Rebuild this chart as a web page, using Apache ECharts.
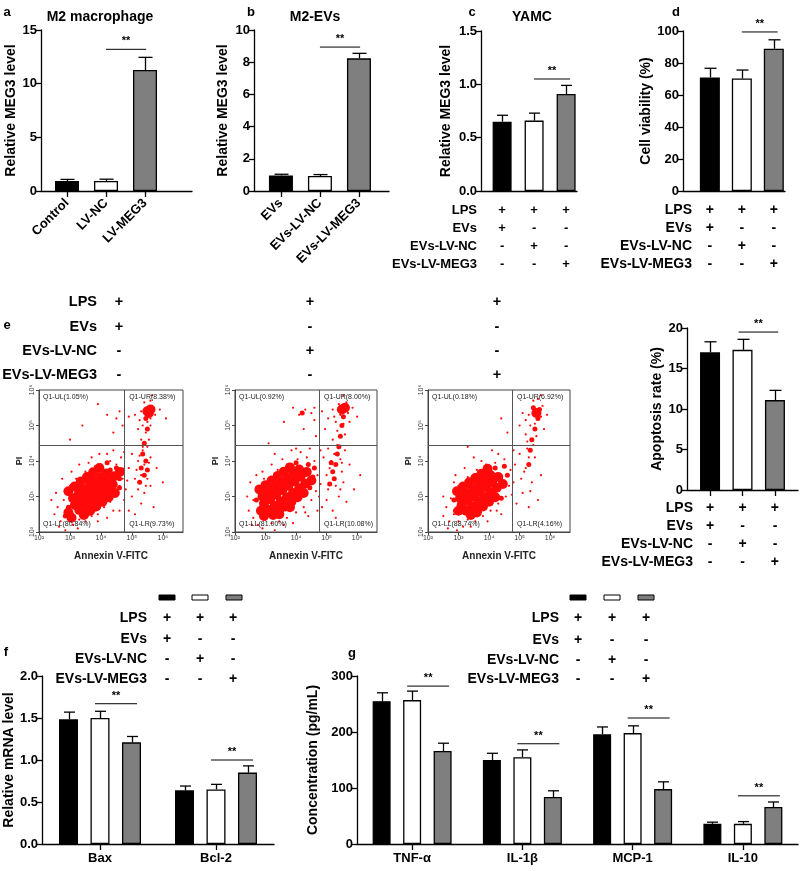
<!DOCTYPE html>
<html><head><meta charset="utf-8">
<script src="https://cdn.jsdelivr.net/npm/echarts@6/dist/echarts.min.js"></script>
<style>html,body{margin:0;padding:0;background:#fff}#main{width:800px;height:871px}</style>
</head><body><div id="main"></div>
<script>
// ---------------- DATA ----------------
const groupsA = ['Control', 'LV-NC', 'LV-MEG3'];
const meanA = [0.93, 0.93, 11.27];
const errA = [1.08, 1.1, 12.45];

const groupsB = ['EVs', 'EVs-LV-NC', 'EVs-LV-MEG3'];
const meanB = [0.97, 0.93, 8.24];
const errB = [1.04, 1.02, 8.55];

const meanC = [0.65, 0.66, 0.91];
const errC = [0.71, 0.73, 0.99];

const meanD = [71, 70.3, 88.9];
const errD = [76.7, 75.6, 94.5];

const meanE = [17.0, 17.3, 11.1];
const errE = [18.3, 18.6, 12.3];

const condLabels = ['LPS', 'EVs', 'EVs-LV-NC', 'EVs-LV-MEG3'];
const condMatrix = [['+', '+', '+'], ['+', '-', '-'], ['-', '+', '-'], ['-', '-', '+']];

const genesF = ['Bax', 'Bcl-2'];
const meanF = [[1.485, 0.64], [1.50, 0.65], [1.21, 0.85]];
const errF = [[1.57, 0.69], [1.58, 0.71], [1.28, 0.93]];

const cytoG = ['TNF-α', 'IL-1β', 'MCP-1', 'IL-10'];
const meanG = [[255, 150, 196, 36], [257, 155, 198, 36], [166, 84, 98, 66]];
const errG = [[270, 162, 209, 39], [273, 168, 211, 40], [180, 95, 111, 75]];

const flowTicks = ['10²', '10³', '10⁴', '10⁵', '10⁶'];
const quadLabels = [
  ['Q1-UL(1.05%)', 'Q1-UR(8.38%)', 'Q1-LL(80.84%)', 'Q1-LR(9.73%)'],
  ['Q1-UL(0.92%)', 'Q1-UR(8.00%)', 'Q1-LL(81.00%)', 'Q1-LR(10.08%)'],
  ['Q1-UL(0.18%)', 'Q1-UR(6.92%)', 'Q1-LL(88.74%)', 'Q1-LR(4.16%)']
];
const gateX = 4.75, gateY = 4.45;

// flow cytometry events (log10 units)
const flowCore1 = [[3.16,2.76],[3.34,2.88],[3.52,2.99],[3.70,3.11],[3.88,3.22],[4.07,3.34],[4.25,3.46],[4.43,3.57],[4.61,3.69],
  [3.30,2.62],[3.48,2.74],[3.66,2.86],[3.84,2.98],[4.02,3.10],[4.20,3.22],[4.38,3.34],
  [3.10,2.95],[3.28,3.07],[3.46,3.18],[3.64,3.30],[3.82,3.42],[4.00,3.54],[4.18,3.65],
  [3.45,2.48],[3.65,2.6],[3.85,2.72],[4.05,2.85],[4.25,2.98],[4.45,3.1],
  [2.95,3.15],[3.15,3.28],[3.35,3.42],[3.55,3.55],[3.75,3.68],[3.95,3.8],
  [2.95,2.55],[3.05,2.4],[3.5,2.55],[3.75,2.7],[3.3,3.3],[3.6,3.5],[5.5,5.4],[5.6,5.45],[5.55,5.35]];
const flowMid1 = [[5.3,3.8],[5.4,3.6],[5.45,4.0],[5.35,4.2],[5.25,3.4],[5.5,3.75],[5.4,4.5],[5.5,4.9],[5.45,5.2],[4.7,3.75],[4.6,3.5],[3.0,2.5],[4.5,3.8],[2.95,2.7],[4.3,3.75],[2.85,2.45],[4.6,3.25],[4.2,3.95]];
const flowSparse1 = [[2.7,2.3],[2.9,2.5],[2.8,2.9],[3.0,3.3],[3.1,2.2],[3.3,2.35],[3.5,2.3],[3.7,2.45],[3.9,2.5],[4.1,2.7],[4.3,2.85],[4.5,3.0],[4.6,3.3],[4.7,3.5],[4.5,3.9],[4.3,4.0],[4.0,3.9],[3.8,3.85],[3.5,3.7],[3.2,3.5],[2.9,3.1],[3.4,2.5],[4.6,2.6],[4.2,2.4],[3.95,4.2],[4.4,4.3],[2.6,2.7],[3.6,3.95],[4.65,4.1],[4.75,2.9],
  [2.5,2.5],[2.65,2.15],[2.85,2.05],[3.25,2.1],[3.9,2.3],[4.4,2.6],[4.8,3.2],[4.85,3.45],[4.2,4.2],[3.7,4.1],[3.3,3.9],[3.05,3.7],[2.75,3.5],[2.55,3.1],[4.75,4.25],[3.0,4.6],[2.4,2.9],
  [4.9,2.6],[5.1,2.5],[5.3,2.8],[5.0,3.0],[5.2,3.2],[5.4,3.1],[5.6,3.3],[5.1,3.5],[5.3,3.6],[5.5,3.5],[5.4,3.9],[5.2,4.0],[5.6,4.1],[5.35,4.3],[5.5,4.4],[5.0,4.2],[5.8,3.8],[4.9,3.8],[5.7,2.7],[6.0,3.4],[5.15,3.75],[5.45,3.3],[5.25,4.15],[5.55,3.95],[5.35,4.4],
  [5.3,4.6],[5.45,4.8],[5.35,5.0],[5.5,5.1],[5.6,5.2],[5.7,5.5],[5.3,5.4],[5.75,5.3],[5.4,5.65],[5.6,5.7],[5.9,5.45],[5.1,5.3],[4.9,5.25],[6.1,5.2],[5.2,4.9],[5.55,4.6],[5.6,5.0],[5.25,5.15],[5.65,5.85],
  [4.2,5.3],[4.5,5.2],[4.6,5.4],[3.4,5.0],[4.4,4.8],[3.9,5.6],[4.7,5.0]];

const flowCore2 = [[2.95,2.8],[3.15,2.92],[3.35,3.05],[3.55,3.18],[3.75,3.3],[3.95,3.43],[4.15,3.56],[4.35,3.69],
  [3.1,2.62],[3.3,2.74],[3.5,2.86],[3.7,2.98],[3.9,3.1],[4.1,3.23],[4.3,3.36],
  [2.9,3.0],[3.1,3.12],[3.3,3.25],[3.5,3.38],[3.7,3.5],[3.9,3.63],[4.1,3.76],
  [3.25,2.48],[3.45,2.6],[3.65,2.72],[3.85,2.85],[4.05,2.98],[4.25,3.1],
  [2.8,3.2],[3.0,3.32],[3.2,3.45],[3.4,3.58],[3.6,3.7],[3.8,3.82],[2.85,2.6],[2.95,2.45],
  [3.45,2.5],[3.8,2.7],[4.5,3.45],[5.5,5.45],[5.6,5.5]];
const flowMid2 = [[5.2,3.7],[5.3,3.9],[5.35,4.2],[5.25,3.5],[5.4,4.4],[5.45,4.7],[5.5,5.0],[5.55,5.25],[4.6,3.8],[4.55,3.55],[5.1,3.35],[4.2,5.35],[2.8,2.6],[4.4,3.9],[5.15,3.95],[2.7,2.9],[4.45,3.25],[4.0,3.95]];
const flowSparse2 = [[2.6,2.4],[2.75,2.2],[3.0,2.35],[3.2,2.25],[3.45,2.3],[3.7,2.4],[4.0,2.55],[4.25,2.7],[4.5,2.9],[4.65,3.15],[4.7,3.6],[4.6,4.0],[4.35,4.1],[4.05,4.05],[3.7,3.9],[3.4,3.75],[3.1,3.5],[2.8,3.2],[2.6,2.9],[2.5,3.4],[3.3,4.2],[4.0,4.35],[4.45,4.35],[3.6,2.2],[4.4,2.45],[2.9,3.7],[4.7,2.6],[3.85,4.3],
  [2.45,2.6],[2.55,2.2],[2.9,2.1],[3.3,2.05],[3.9,2.25],[4.3,2.55],[4.75,3.0],[4.8,3.35],[4.15,4.25],[3.55,4.05],[3.2,3.9],[2.95,3.5],[2.7,3.6],[2.4,3.0],[4.8,4.3],[3.1,4.5],
  [4.85,2.7],[5.0,2.9],[5.2,2.6],[5.4,3.0],[5.05,3.2],[5.3,3.3],[5.55,3.4],[5.0,3.6],[5.5,3.7],[5.15,4.0],[5.45,4.05],[5.6,4.3],[5.05,4.35],[5.75,3.9],[4.9,4.1],[5.9,3.2],[5.3,2.4],[5.65,2.85],[6.1,3.6],[5.1,3.8],[5.45,3.2],[5.25,4.2],[5.5,3.95],[5.35,4.45],
  [5.2,4.6],[5.35,4.85],[5.6,4.75],[5.3,5.1],[5.45,5.3],[5.7,5.35],[5.4,5.6],[5.65,5.65],[5.85,5.5],[5.05,5.2],[4.85,5.4],[6.0,5.25],[5.2,5.45],[5.75,5.1],[4.95,4.9],[5.55,5.05],[5.25,5.25],[5.55,5.85],
  [4.1,5.3],[4.3,5.45],[4.5,5.35],[4.6,5.15],[3.6,5.1],[4.25,4.9],[3.9,5.5],[4.65,4.7],[4.6,5.5]];

const flowCore3 = [[3.1,2.75],[3.3,2.88],[3.5,3.0],[3.7,3.13],[3.9,3.27],[4.1,3.4],[4.3,3.55],
  [3.25,2.6],[3.45,2.72],[3.65,2.85],[3.85,2.98],[4.05,3.12],[4.25,3.25],
  [3.05,2.95],[3.25,3.08],[3.45,3.2],[3.65,3.33],[3.85,3.46],[4.05,3.6],
  [3.4,2.48],[3.6,2.6],[3.8,2.72],[4.0,2.85],[4.2,2.98],
  [2.95,3.15],[3.15,3.28],[3.35,3.4],[3.55,3.52],[3.75,3.64],[3.95,3.78],[3.0,2.6],
  [3.6,2.55],[4.45,3.35],[5.55,5.35]];
const flowMid3 = [[5.45,5.5],[5.6,5.2],[5.5,4.9],[5.4,4.6],[5.35,4.3],[5.3,3.9],[4.6,3.6],[2.9,2.6],[4.5,3.85],[5.65,5.45],[2.95,3.2],[4.4,2.95],[2.85,2.9],[4.2,3.8]];
const flowSparse3 = [[2.7,2.3],[2.85,2.5],[3.0,2.3],[3.3,2.35],[3.55,2.3],[3.8,2.45],[4.05,2.6],[4.3,2.8],[4.55,3.0],[4.65,3.3],[4.7,3.75],[4.5,4.05],[4.2,3.95],[3.9,3.9],[3.6,3.75],[3.3,3.55],[3.0,3.3],[2.75,2.95],[2.6,2.7],[3.5,4.1],[4.1,4.3],[3.15,2.15],[4.4,2.5],[2.9,3.6],
  [2.5,2.45],[2.65,2.1],[2.95,2.05],[3.4,2.15],[3.95,2.3],[4.25,2.6],[4.75,3.05],[4.8,3.4],[4.3,4.2],[3.75,4.0],[3.2,3.8],[2.85,3.4],[2.5,3.0],[4.8,4.3],[3.3,4.4],
  [4.9,2.8],[5.1,3.1],[5.3,2.7],[5.05,3.5],[5.4,3.4],[5.2,3.8],[5.5,4.1],[5.0,4.2],[5.7,3.6],[5.25,4.35],[5.6,2.9],[4.85,3.9],[5.15,3.7],[5.35,3.15],[5.3,4.1],[5.45,4.45],
  [5.2,4.75],[5.35,5.0],[5.55,4.7],[5.3,5.3],[5.7,5.25],[5.45,5.7],[5.75,5.55],[5.1,5.35],[5.9,5.3],[5.6,5.75],[5.0,5.0],[5.25,4.55],[5.8,4.9],[5.5,5.05],[5.2,5.15],[5.7,5.85],
  [4.4,5.2],[4.6,4.8]];

// ---------------- STYLE / LAYOUT ----------------
const FF = '"Liberation Sans", Arial, Helvetica, sans-serif';
const BAR_COLORS = ['#000000', '#ffffff', '#7f7f7f'];
const DOT = '#ff0a0a';
const LINE = {color: '#000', width: 1.3};
const chart = echarts.init(document.getElementById('main'));

const flowGrid = {show: true, borderColor: '#444', borderWidth: 1, backgroundColor: 'transparent'};
const grids = [
  {left: 41, top: 30, width: 151, height: 161},
  {left: 254, top: 30, width: 135, height: 161},
  {left: 481, top: 31, width: 96, height: 160},
  {left: 683, top: 31, width: 102, height: 160},
  {left: 687, top: 328, width: 111, height: 162},
  {left: 42, top: 676, width: 232, height: 168},
  {left: 357, top: 676, width: 441, height: 168},
  Object.assign({left: 39, top: 390, width: 144, height: 142}, flowGrid),
  Object.assign({left: 235, top: 390, width: 142, height: 142}, flowGrid),
  Object.assign({left: 428, top: 390, width: 142, height: 142}, flowGrid)
];

function yAxisDef(gi, min, max, interval, name, gap, dec) {
  return {type: 'value', gridIndex: gi, min: min, max: max, interval: interval,
    name: name, nameLocation: 'middle', nameGap: gap,
    nameTextStyle: {fontFamily: FF, fontWeight: 'bold', fontSize: 14, color: '#000'},
    axisLine: {show: true, onZero: false, lineStyle: LINE},
    axisTick: {show: true, length: 5, lineStyle: LINE},
    axisLabel: {fontFamily: FF, fontWeight: 'bold', fontSize: 13, color: '#000', margin: 4,
      formatter: v => dec ? v.toFixed(dec) : String(v)},
    splitLine: {show: false}};
}
function xValAxis(gi, min, max, labels, showTicks) {
  return {type: 'value', gridIndex: gi, min: min, max: max,
    axisLine: {show: true, onZero: false, lineStyle: LINE},
    axisTick: {show: showTicks, customValues: [0, 1, 2], length: 6, lineStyle: LINE},
    axisLabel: {show: !!labels, customValues: [0, 1, 2], rotate: 45, margin: 10,
      fontFamily: FF, fontWeight: 'bold', fontSize: 13, color: '#000',
      formatter: v => labels ? labels[Math.round(v)] : ''},
    splitLine: {show: false}};
}
function xCatAxis(gi, cats) {
  return {type: 'category', gridIndex: gi, data: cats,
    axisLine: {show: true, onZero: false, lineStyle: LINE},
    axisTick: {show: true, alignWithLabel: true, length: 6, lineStyle: LINE},
    axisLabel: {fontFamily: FF, fontWeight: 'bold', fontSize: 13, color: '#000', margin: 8},
    splitLine: {show: false}};
}
function flowX(gi) {
  return {type: 'value', gridIndex: gi, min: 2, max: 6.65,
    name: 'Annexin V-FITC', nameLocation: 'middle', nameGap: 19,
    nameTextStyle: {fontFamily: FF, fontWeight: 'bold', fontSize: 10, color: '#222'},
    axisLine: {show: true, onZero: false, lineStyle: {color: '#444', width: 1}},
    axisTick: {show: true, customValues: [2, 3, 4, 5, 6], length: 3, lineStyle: {color: '#444'}},
    axisLabel: {customValues: [2, 3, 4, 5, 6], fontFamily: FF, fontSize: 7, color: '#333', margin: 3,
      formatter: v => flowTicks[Math.round(v) - 2]},
    splitLine: {show: false}};
}
function flowY(gi) {
  return {type: 'value', gridIndex: gi, min: 2, max: 6, interval: 1,
    name: 'PI', nameLocation: 'middle', nameGap: 15,
    nameTextStyle: {fontFamily: FF, fontWeight: 'bold', fontSize: 9, color: '#222'},
    axisLine: {show: true, onZero: false, lineStyle: {color: '#444', width: 1}},
    axisTick: {show: true, length: 3, lineStyle: {color: '#444'}},
    axisLabel: {rotate: 90, fontFamily: FF, fontSize: 7, color: '#333', margin: 3,
      formatter: v => flowTicks[Math.round(v) - 2]},
    splitLine: {show: false}};
}

const xAxes = [
  xValAxis(0, -0.667, 3.205, groupsA, true),
  xValAxis(1, -0.69, 2.77, groupsB, true),
  xValAxis(2, -0.66, 2.34, null, false),
  xValAxis(3, -0.84, 2.35, null, false),
  xValAxis(4, -0.71, 2.71, null, true),
  xCatAxis(5, genesF),
  xCatAxis(6, cytoG),
  flowX(7), flowX(8), flowX(9)
];
const yAxes = [
  yAxisDef(0, 0, 15, 5, 'Relative MEG3 level', 22, 0),
  yAxisDef(1, 0, 10, 2, 'Relative MEG3 level', 24, 0),
  yAxisDef(2, 0, 1.5, 0.5, 'Relative MEG3 level', 28, 1),
  yAxisDef(3, 0, 100, 20, 'Cell viability (%)', 19, 0),
  yAxisDef(4, 0, 20, 5, 'Apoptosis rate (%)', 23, 0),
  yAxisDef(5, 0, 2, 0.5, 'Relative mRNA level', 26, 1),
  yAxisDef(6, 0, 300, 100, 'Concentration (pg/mL)', 24, 0),
  flowY(7), flowY(8), flowY(9)
];

function errRender(offsetPx, capW) {
  return function (params, api) {
    const p0 = api.coord([api.value(0), api.value(1)]);
    const p1 = api.coord([api.value(0), api.value(2)]);
    const cx = Math.round(p0[0] + offsetPx) + 0.5;
    return {type: 'group', children: [
      {type: 'line', shape: {x1: cx, y1: p0[1], x2: cx, y2: p1[1]}, style: {stroke: '#000', lineWidth: 1.3}},
      {type: 'line', shape: {x1: cx - capW / 2, y1: p1[1], x2: cx + capW / 2, y2: p1[1]}, style: {stroke: '#000', lineWidth: 1.3}}
    ]};
  };
}

const series = [];
function simplePanel(gi, means, errs, bw) {
  series.push({type: 'bar', xAxisIndex: gi, yAxisIndex: gi, barWidth: bw, z: 2,
    itemStyle: {borderColor: '#000', borderWidth: 1.3},
    data: means.map((v, i) => ({value: [i, v], itemStyle: {color: BAR_COLORS[i]}}))});
  series.push({type: 'custom', xAxisIndex: gi, yAxisIndex: gi, z: 3,
    renderItem: errRender(0, Math.round(bw * 0.6)), encode: {x: 0, y: [1, 2]},
    data: means.map((v, i) => [i, v, errs[i]])});
}
simplePanel(0, meanA, errA, 24);
simplePanel(1, meanB, errB, 24);
simplePanel(2, meanC, errC, 19);
simplePanel(3, meanD, errD, 20);
simplePanel(4, meanE, errE, 20);

function groupedPanel(gi, means, errs, bw, step) {
  means.forEach((arr, j) => {
    series.push({type: 'bar', xAxisIndex: gi, yAxisIndex: gi, barWidth: bw,
      barGap: ((step - bw) / bw * 100).toFixed(1) + '%', z: 2,
      itemStyle: {color: BAR_COLORS[j], borderColor: '#000', borderWidth: 1.3}, data: arr});
    series.push({type: 'custom', xAxisIndex: gi, yAxisIndex: gi, z: 3,
      renderItem: errRender((j - 1) * step, Math.round(bw * 0.6)), encode: {x: 0, y: [1, 2]},
      data: arr.map((v, i) => [i, v, errs[j][i]])});
  });
}
groupedPanel(5, meanF, errF, 19, 31.5);
groupedPanel(6, meanG, errG, 18, 30.5);

function flowPanel(gi, core, mid, sparse) {
  const base = {type: 'scatter', xAxisIndex: gi, yAxisIndex: gi, silent: true, z: 2,
    itemStyle: {color: DOT, opacity: 1, borderWidth: 0}};
  series.push(Object.assign({}, base, {symbolSize: 2.2, data: sparse}));
  series.push(Object.assign({}, base, {symbolSize: 5, data: mid}));
  series.push(Object.assign({}, base, {symbolSize: 10, data: core,
    markLine: {silent: true, symbol: 'none', animation: false, label: {show: false},
      lineStyle: {color: '#555', width: 1, type: 'solid'},
      data: [{xAxis: gateX}, {yAxis: gateY}]}}));
}
flowPanel(7, flowCore1, flowMid1, flowSparse1);
flowPanel(8, flowCore2, flowMid2, flowSparse2);
flowPanel(9, flowCore3, flowMid3, flowSparse3);

chart.setOption({
  animation: false,
  textStyle: {fontFamily: FF},
  grid: grids, xAxis: xAxes, yAxis: yAxes, series: series
});

// ---------------- ANNOTATIONS ----------------
const G = [];
const txt = (x, y, s, size, align, extra) => G.push(Object.assign({type: 'text', x: x, y: y, silent: true,
  style: {text: s, fontFamily: FF, fontWeight: 'bold', fontSize: size, fill: '#000',
    textAlign: align || 'center', textVerticalAlign: 'middle'}}, extra || {}));

// panel letters & titles
[['a', 7, 12], ['b', 251, 12], ['c', 472, 12], ['d', 676, 12], ['e', 7, 325], ['f', 6, 652], ['g', 352, 653]]
  .forEach(l => txt(l[1], l[2], l[0], 13, 'center'));
txt(100, 17, 'M2 macrophage', 14);
txt(315, 17, 'M2-EVs', 14);
txt(532, 17, 'YAMC', 14);

function table(labelRight, rowsY, colsX, size) {
  condLabels.forEach((lab, r) => {
    txt(labelRight, rowsY[r], lab, size, 'right');
    condMatrix[r].forEach((s, c) => txt(colsX[c], rowsY[r], s, size, 'center'));
  });
}
const barPx = gi => [0, 1, 2].map(i => chart.convertToPixel({xAxisIndex: gi}, i));
table(477, [210, 228, 246, 264], barPx(2), 13);
table(692, [210, 228, 246, 264], barPx(3), 14);
table(693, [508, 526, 544, 562], barPx(4), 14);
table(97, [302, 327, 351, 375], [119, 310, 497], 14.5);
table(147, [618, 639, 659, 679], [167, 200, 233], 14);
table(559, [618, 640, 660, 679], [578, 612, 646], 14);

// legend swatches f/g
[[167, 200, 234], [578, 612, 646]].forEach(cols => cols.forEach((cx, j) => G.push({type: 'rect', silent: true,
  shape: {x: cx - 8, y: 595, width: 16, height: 5},
  style: {fill: BAR_COLORS[j], stroke: '#000', lineWidth: 1}})));

// significance brackets
function sigLine(x1, x2, y) {
  G.push({type: 'line', silent: true, shape: {x1: x1, y1: y, x2: x2, y2: y}, style: {stroke: '#000', lineWidth: 1}});
  txt((x1 + x2) / 2, y - 8, '**', 11);
}
[[0, 1.0, 2.03, 13.2], [1, 1.0, 2.03, 8.94], [2, 1.0, 2.12, 1.05], [3, 1.0, 2.12, 99.4], [4, 0.88, 2.1, 19.5]]
  .forEach(s => {
    const p1 = chart.convertToPixel({gridIndex: s[0]}, [s[1], s[3]]);
    const p2 = chart.convertToPixel({gridIndex: s[0]}, [s[2], s[3]]);
    sigLine(p1[0], p2[0], p1[1]);
  });
[[5, 'Bax', 1.67], [5, 'Bcl-2', 1.0], [6, 'TNF-α', 282], [6, 'IL-1β', 179], [6, 'MCP-1', 225], [6, 'IL-10', 86]]
  .forEach(s => {
    const cx = chart.convertToPixel({xAxisIndex: s[0]}, s[1]);
    const cy = chart.convertToPixel({yAxisIndex: s[0]}, s[2]);
    sigLine(cx - 5, cx + 37, cy);
  });

// flow quadrant labels
[7, 8, 9].forEach((gi, k) => {
  const tl = chart.convertToPixel({gridIndex: gi}, [2, 6]);
  const br = chart.convertToPixel({gridIndex: gi}, [6.65, 2]);
  const vx = chart.convertToPixel({xAxisIndex: gi}, gateX);
  const q = quadLabels[k];
  const st = (x, y, s, va) => G.push({type: 'text', x: x, y: y, silent: true, z: 10,
    style: {text: s, fontFamily: FF, fontSize: 7, fill: '#222', textAlign: 'left', textVerticalAlign: va}});
  st(tl[0] + 4, tl[1] + 4, q[0], 'top');
  st(vx + 5, tl[1] + 4, q[1], 'top');
  st(tl[0] + 4, br[1] - 4, q[2], 'bottom');
  st(vx + 5, br[1] - 4, q[3], 'bottom');
});

chart.setOption({graphic: G});
</script></body></html>
